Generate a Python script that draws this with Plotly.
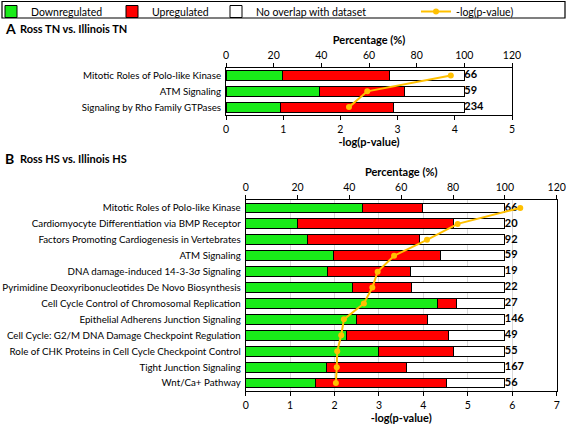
import plotly.graph_objects as go

# ---------------- data ----------------
cats_a = ["Mitotic Roles of Polo-like Kinase", "ATM Signaling", "Signaling by Rho Family GTPases"]
down_a = [23.8, 39.3, 22.7]
up_a = [44.6, 35.8, 47.6]
none_a = [31.6, 24.9, 29.7]
counts_a = [66, 59, 234]
logp_a = [3.93, 2.47, 2.15]

cats_b = [
    "Mitotic Roles of Polo-like Kinase",
    "Cardiomyocyte Differentiation via BMP Receptor",
    "Factors Promoting Cardiogenesis in Vertebrates",
    "ATM Signaling",
    "DNA damage-induced 14-3-3σ Signaling",
    "Pyrimidine Deoxyribonucleotides De Novo Biosynthesis",
    "Cell Cycle Control of Chromosomal Replication",
    "Epithelial Adherens Junction Signaling",
    "Cell Cycle: G2/M DNA Damage Checkpoint Regulation",
    "Role of CHK Proteins in Cell Cycle Checkpoint Control",
    "Tight Junction Signaling",
    "Wnt/Ca+ Pathway",
]
down_b = [45.0, 19.9, 23.8, 34.0, 31.6, 41.1, 74.1, 42.9, 39.0, 51.2, 31.1, 27.0]
up_b = [23.1, 60.2, 43.2, 41.0, 31.8, 23.0, 7.3, 27.2, 39.2, 28.9, 31.0, 50.3]
none_b = [31.9, 19.9, 33.0, 25.0, 36.6, 35.9, 18.6, 29.9, 21.8, 19.9, 37.9, 22.7]
counts_b = [66, 20, 92, 59, 19, 22, 27, 146, 49, 55, 167, 56]
logp_b = [6.18, 4.77, 4.08, 3.34, 2.97, 2.85, 2.66, 2.21, 2.15, 2.06, 2.05, 2.03]

pct_ticks = [0, 20, 40, 60, 80, 100, 120]
log_ticks_a = [0, 1, 2, 3, 4, 5]
log_ticks_b = [0, 1, 2, 3, 4, 5, 6, 7]

# ---------------- style ----------------
FONT = "Lato, Roboto, sans-serif"
FS = 10
GREEN = "#19EB19"
RED = "#FF0000"
WHITE = "#FFFFFF"
GOLD = "#FFC000"
W, H = 568, 426

fig = go.Figure()

def add_panel(cats, down, up, none, counts, logp, xp, xl, ya, bw, legend_on):
    names = ["Downregulated", "Upregulated", "No overlap with dataset"]
    cols = [GREEN, RED, WHITE]
    legs = ["legend", "legend2", "legend3"]
    for vals, nm, col, lg in zip([down, up, none], names, cols, legs):
        fig.add_trace(go.Bar(
            x=vals, y=cats, orientation="h", name=nm, width=bw,
            marker=dict(color=col, line=dict(color="black", width=1)),
            xaxis=xp, yaxis=ya, showlegend=legend_on, legend=lg,
            hoverinfo="skip",
        ))
    fig.add_trace(go.Scatter(
        x=[100] * len(cats), y=cats, mode="text",
        text=[f"<b>{c}</b>" for c in counts], textposition="middle right",
        textfont=dict(family=FONT, size=FS + 1, color="black"),
        xaxis=xp, yaxis=ya, showlegend=False, cliponaxis=False, hoverinfo="skip",
    ))
    fig.add_trace(go.Scatter(
        x=logp, y=cats, mode="lines+markers", name="-log(p-value)",
        line=dict(color=GOLD, width=2), marker=dict(color=GOLD, size=6),
        xaxis=xl, yaxis=ya, showlegend=legend_on, legend="legend4",
        cliponaxis=False,
    ))

add_panel(cats_a, down_a, up_a, none_a, counts_a, logp_a, "x", "x2", "y", 0.64, True)
add_panel(cats_b, down_b, up_b, none_b, counts_b, logp_b, "x3", "x4", "y2", 0.62, False)

tickfont = dict(family=FONT, size=FS + 0.5, color="black")
ytickfont = dict(family=FONT, size=9.75, color="black")
titlefont = dict(family=FONT, size=FS + 1, color="black")

def px_x(p):
    return p / W

def px_y(p):
    return 1 - p / H

dom_a = [px_x(226), px_x(512)]
dom_b = [px_x(245.7), px_x(556.7)]

common_pct = dict(range=[0, 120], tickvals=pct_ticks, side="top", ticks="outside", ticklen=4,
                  tickcolor="black", showline=True, linecolor="black", linewidth=1, mirror=True,
                  showgrid=False, zeroline=False, tickfont=tickfont, fixedrange=True,
                  title=dict(text="<b>Percentage (%)</b>", font=titlefont, standoff=1))
common_log = dict(side="bottom", ticks="outside", ticklen=4, tickcolor="black", showline=True,
                  linecolor="black", zeroline=False, tickfont=tickfont,
                  title=dict(text="<b>-log(p-value)</b>", font=titlefont, standoff=0))

fig.update_layout(
    width=W, height=H,
    margin=dict(l=0, r=0, t=0, b=0, autoexpand=False),
    paper_bgcolor="white", plot_bgcolor="white",
    barmode="stack",
    font=dict(family=FONT, size=FS, color="black"),
    xaxis=dict(domain=dom_a, anchor="y", **common_pct),
    xaxis2=dict(overlaying="x", anchor="y", range=[0, 5], tickvals=log_ticks_a, showgrid=False, **common_log),
    yaxis=dict(domain=[px_y(115), px_y(67.7)], anchor="x", range=[2.5, -0.5], showline=True,
               linecolor="black", mirror=True, ticks="", tickfont=ytickfont, showgrid=False,
               zeroline=False, ticklabelstandoff=2),
    xaxis3=dict(domain=dom_b, anchor="y2", **common_pct),
    xaxis4=dict(overlaying="x3", anchor="y2", range=[0, 7], tickvals=log_ticks_b,
                showgrid=True, gridcolor="#D9D9D9", gridwidth=1, **common_log),
    yaxis2=dict(domain=[px_y(391), px_y(200)], anchor="x3", range=[11.5, -0.5], showline=True,
                linecolor="black", mirror=True, ticks="", tickfont=ytickfont, showgrid=False,
                zeroline=False, ticklabelstandoff=2),
)

leg_common = dict(orientation="h", y=px_y(-3), yanchor="top", xanchor="left",
                  bgcolor="rgba(0,0,0,0)", borderwidth=0, font=dict(family=FONT, size=FS + 0.5, color="black"),
                  itemwidth=30, itemclick=False, itemdoubleclick=False)
fig.update_layout(
    legend=dict(x=px_x(-9), **leg_common),
    legend2=dict(x=px_x(112), **leg_common),
    legend3=dict(x=px_x(216), **leg_common),
    legend4=dict(x=px_x(416), **leg_common),
)

# legend frame
fig.add_shape(type="rect", xref="paper", yref="paper", x0=px_x(2), x1=px_x(565),
              y0=px_y(18), y1=px_y(1.5), line=dict(color="black", width=1.2), fillcolor="rgba(0,0,0,0)")

# panel titles
for letter, txt, ypx in [("A", "Ross TN vs. Illinois TN", 28), ("B", "Ross HS vs. Illinois HS", 158)]:
    fig.add_annotation(xref="paper", yref="paper", x=px_x(3), y=px_y(ypx), xanchor="left", yanchor="middle",
                       text=f"<b>{letter}</b>", showarrow=False, font=dict(family=FONT, size=14, color="black"))
    fig.add_annotation(xref="paper", yref="paper", x=px_x(18), y=px_y(ypx), xanchor="left", yanchor="middle",
                       text=f"<b>{txt}</b>", showarrow=False, font=dict(family=FONT, size=FS + 1, color="black"))

fig.write_html("out.html", config={"displayModeBar": False},
               post_script="document.body.style.margin='0';document.body.style.overflow='hidden';")
